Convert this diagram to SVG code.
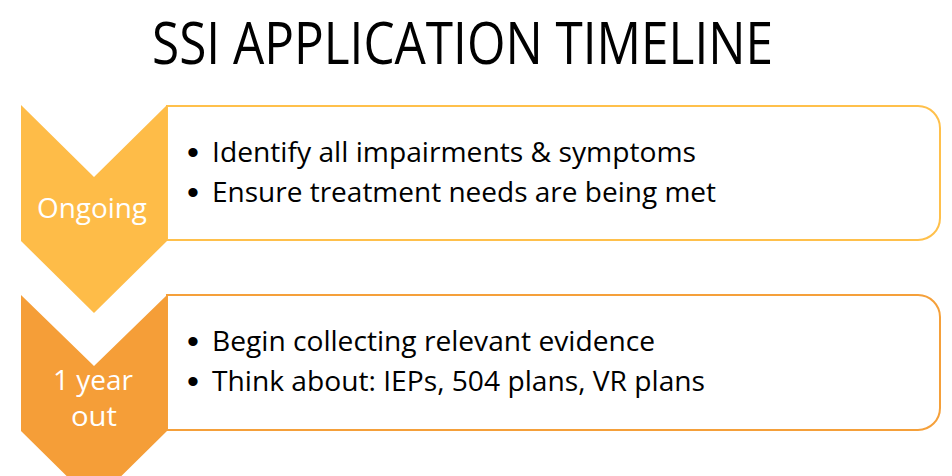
<svg xmlns="http://www.w3.org/2000/svg" width="952" height="476" viewBox="0 0 952 476">
<style>
.t{font-family:"Open Sans","Liberation Sans",sans-serif;}
.title{font-size:59px;fill:#000;}
.b{font-size:27px;fill:#000;}
.dot{font-family:"Liberation Sans",sans-serif;font-size:34px;fill:#000;}
.lab{font-size:28px;fill:#fff;text-anchor:middle;}
.box1{fill:#fff;stroke:#FFC04B;stroke-width:2;}
.box2{fill:#fff;stroke:#F5A03A;stroke-width:2;}
</style>
<rect width="952" height="476" fill="#fff"/>
<text class="t title" x="152" y="64" textLength="621" lengthAdjust="spacingAndGlyphs">SSI APPLICATION TIMELINE</text>
<g id="connectors"></g>
<g id="ongoing-box">
<path class="box1" d="M167,106 H918 A22,22 0 0 1 940,128 V218 A22,22 0 0 1 918,240 H167 Z"/>
<text class="dot" x="187" y="164">•</text>
<text class="t b" x="212" y="162" textLength="484" lengthAdjust="spacingAndGlyphs">Identify all impairments &amp; symptoms</text>
<text class="dot" x="187" y="204">•</text>
<text class="t b" x="212" y="202" textLength="504" lengthAdjust="spacingAndGlyphs">Ensure treatment needs are being met</text>
</g>
<g id="ongoing">
<polygon points="21,105 94,177 167,105 167,241 94,313 21,241" fill="#FEBC48"/>
<text class="t lab" x="92" y="218" textLength="110" lengthAdjust="spacingAndGlyphs">Ongoing</text>
</g>
<g id="year-box">
<path class="box2" d="M167,295 H918 A22,22 0 0 1 940,317 V408 A22,22 0 0 1 918,430 H167 Z"/>
<text class="dot" x="187" y="353">•</text>
<text class="t b" x="212" y="351" textLength="443" lengthAdjust="spacingAndGlyphs">Begin collecting relevant evidence</text>
<text class="dot" x="187" y="393">•</text>
<text class="t b" x="212" y="391" textLength="493" lengthAdjust="spacingAndGlyphs">Think about: IEPs, 504 plans, VR plans</text>
</g>
<g id="one-year-out">
<polygon points="21,295 94,366 167,295 167,431 94,503 21,431" fill="#F59E38"/>
<text class="t lab" x="93" y="390" textLength="80" lengthAdjust="spacingAndGlyphs">1 year</text>
<text class="t lab" x="94" y="426" textLength="46" lengthAdjust="spacingAndGlyphs">out</text>
</g>
</svg>
